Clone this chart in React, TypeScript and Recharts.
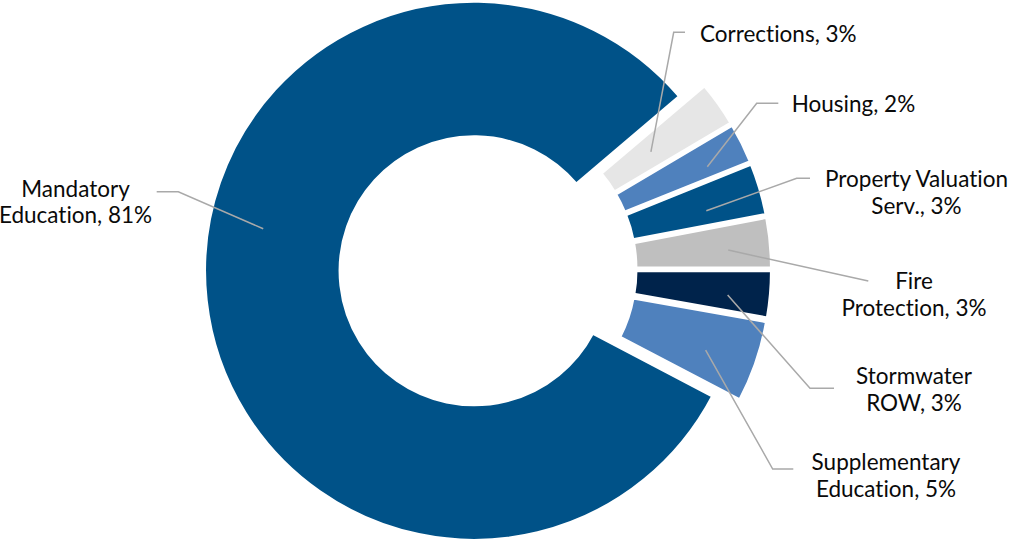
import React from 'react';
import { PieChart, Pie, Sector } from 'recharts';

// ---- data (order: counter-clockwise from the lower edge of the opening) ----
const categories = [
  'Supplementary Education',
  'Stormwater ROW',
  'Fire Protection',
  'Property Valuation Serv.',
  'Housing',
  'Corrections',
  'Mandatory Education',
];
const shares = [4.9, 2.8, 3.0, 3.1, 2.4, 2.7, 81.1];
const labelLines = [
  ['Supplementary', 'Education, 5%'],
  ['Stormwater', 'ROW, 3%'],
  ['Fire', 'Protection, 3%'],
  ['Property Valuation', 'Serv., 3%'],
  ['Housing, 2%'],
  ['Corrections, 3%'],
  ['Mandatory', 'Education, 81%'],
];
const colors = ['#4f81bd', '#00234b', '#bfbfbf', '#005288', '#4f81bd', '#e6e6e6', '#005288'];

// ---- styling / layout ----
const explode = [16, 16, 16, 16, 16, 16, 12];
const labelLayout = [
  { r: 218, dA: -1.4, knee: [772.7, 469], end: 793.3, tx: 886, ty: 470, anchor: 'middle' },
  { r: 227, dA: -1.1, knee: [810, 388.3], end: 834, tx: 914, ty: 384, anchor: 'middle' },
  { r: 227, dA: -0.9, knee: [868.3, 281], end: 868.3, tx: 914, ty: 289.3, anchor: 'middle' },
  { r: 212, dA: -1.6, knee: [796.7, 178.3], end: 810, tx: 916.5, ty: 187.3, anchor: 'middle' },
  { r: 228, dA: -1.5, knee: [756.7, 103.3], end: 778.3, tx: 791.7, ty: 112.3, anchor: 'start' },
  { r: 186.5, dA: 0, knee: [673.7, 32.3], end: 685, tx: 700, ty: 41.5, anchor: 'start' },
  { r: 215, dA: -17.6, knee: [178.3, 191.7], end: 156.7, tx: 75.5, ty: 196.7, anchor: 'middle' },
];

const data = categories.map((name, i) => ({ name, value: shares[i] }));

const RAD = Math.PI / 180;
const shift = (cx: number, cy: number, angle: number, d: number) => ({
  x: cx + d * Math.cos(-angle * RAD),
  y: cy + d * Math.sin(-angle * RAD),
});

const midOf = (p: any) => (p.midAngle != null ? p.midAngle : (p.startAngle + p.endAngle) / 2);

const renderSlice = (p: any) => {
  const i = p.index;
  const mid = midOf(p);
  const c = shift(p.cx, p.cy, mid, explode[i]);
  return (
    <Sector
      cx={c.x}
      cy={c.y}
      innerRadius={p.innerRadius}
      outerRadius={p.outerRadius}
      startAngle={p.startAngle}
      endAngle={p.endAngle}
      fill={colors[i]}
      stroke="#ffffff"
      strokeWidth={3}
    />
  );
};

const renderLabel = (p: any) => {
  const i = p.index;
  const L = labelLayout[i];
  const mid = midOf(p);
  const c = shift(p.cx, p.cy, mid, explode[i]);
  const s = shift(c.x, c.y, mid + L.dA, L.r);
  return (
    <g>
      <polyline
        points={`${s.x},${s.y} ${L.knee[0]},${L.knee[1]} ${L.end},${L.knee[1]}`}
        fill="none"
        stroke="#a9a9a9"
        strokeWidth={1.5}
      />
      <text
        textAnchor={L.anchor as any}
        fontFamily="Lato, 'Open Sans', sans-serif"
        fontSize={22.5}
        fill="#0a0a0a"
        style={{ fontVariantLigatures: 'none', fontFeatureSettings: '"liga" 0' }}
      >
        {labelLines[i].map((t, k) => (
          <tspan key={k} x={L.tx} y={L.ty + k * 26.7}>
            {t}
          </tspan>
        ))}
      </text>
    </g>
  );
};

export default function App() {
  return (
    <div style={{ position: 'absolute', left: 0, top: 0, width: 1013, height: 542, background: '#fff' }}>
      <PieChart width={1013} height={542} margin={{ top: 0, right: 0, bottom: 0, left: 0 }}>
        <Pie
          data={data}
          dataKey="value"
          nameKey="name"
          cx={486}
          cy={269.5}
          innerRadius={134}
          outerRadius={269.5}
          startAngle={-27.7}
          endAngle={332.3}
          fill="transparent"
          stroke="none"
          label={renderSlice}
          labelLine={false}
          isAnimationActive={false}
        />
        <Pie
          data={data}
          dataKey="value"
          nameKey="name"
          cx={486}
          cy={269.5}
          innerRadius={134}
          outerRadius={269.5}
          startAngle={-27.7}
          endAngle={332.3}
          fill="transparent"
          stroke="none"
          label={renderLabel}
          labelLine={false}
          isAnimationActive={false}
        />
      </PieChart>
    </div>
  );
}
